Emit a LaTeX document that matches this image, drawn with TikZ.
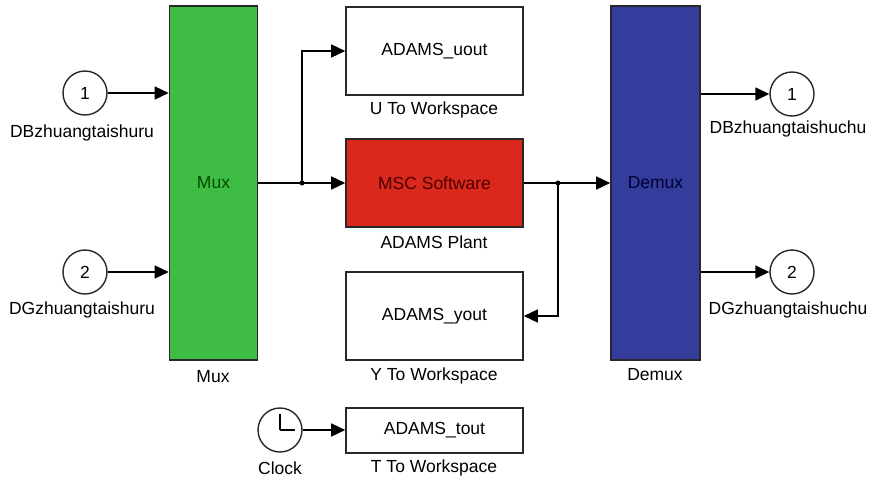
\documentclass[tikz,border=0pt]{standalone}
\usepackage{fontspec}
\setmainfont{Liberation Sans}
\usetikzlibrary{arrows.meta}
\definecolor{muxgreen}{RGB}{62,188,68}
\definecolor{msred}{RGB}{218,40,28}
\definecolor{dmxblue}{RGB}{52,60,156}
\definecolor{edge}{RGB}{40,40,40}
\begin{document}
\begin{tikzpicture}[x=1pt,y=-1pt,
  every node/.style={font=\fontsize{17.5}{20}\selectfont, inner sep=0pt},
  blk/.style={draw=edge, line width=1.6pt, rectangle},
  port/.style={draw=edge, line width=1.4pt, circle, minimum size=44pt},
  wire/.style={line width=1.5pt, draw=black, -{Triangle[length=14pt,width=13pt]}},
  plain/.style={line width=1.5pt, draw=black},
  lbl/.style={anchor=center}]
\useasboundingbox[fill=white] (0,0) rectangle (880,480);
% blocks
\node[blk, fill=muxgreen, minimum width=88pt, minimum height=354pt, text=green!30!black] (mux) at (213.5,183) {Mux};
\node[blk, fill=white, minimum width=177pt, minimum height=88pt] (uws) at (434.5,51) {ADAMS\_uout};
\node[blk, fill=msred, minimum width=177pt, minimum height=88pt, text=red!30!black] (msc) at (434.5,183) {MSC Software};
\node[blk, fill=white, minimum width=177pt, minimum height=88pt] (yws) at (434.5,316) {ADAMS\_yout};
\node[blk, fill=white, minimum width=177pt, minimum height=45pt] (tws) at (434.5,430.5) {ADAMS\_tout};
\node[blk, fill=dmxblue, minimum width=89pt, minimum height=354pt, text=blue!20!black] (dmx) at (655.5,183) {Demux};
% ports
\node[port] (in1) at (85,93) {1};
\node[port] (in2) at (85,272) {2};
\node[port] (out1) at (792,94) {1};
\node[port] (out2) at (792,272) {2};
\node[port] (clk) at (280,430) {};
\draw[plain, line width=1.4pt] (clk.center) -- ++(0,-16);
\draw[plain, line width=1.4pt] (clk.center) -- ++(15,0);
% labels
\node[lbl] (lin1) at (82,133) {DBzhuangtaishuru};
\node[lbl] (lin2) at (82,310) {DGzhuangtaishuru};
\node[lbl] (lmux) at (213,377) {Mux};
\node[lbl] (luws) at (434,110) {U To Workspace};
\node[lbl] (lmsc) at (434,242) {ADAMS Plant};
\node[lbl] (lyws) at (434,376) {Y To Workspace};
\node[lbl] (lclk) at (280,468) {Clock};
\node[lbl] (ltws) at (434,468) {T To Workspace};
\node[lbl] (ldmx) at (655,375) {Demux};
\node[lbl] (lout1) at (788,129) {DBzhuangtaishuchu};
\node[lbl] (lout2) at (788,310) {DGzhuangtaishuchu};
% wires
\coordinate (b1) at (302,183);
\coordinate (b2) at (558,183);
\draw[wire] (in1) -- (in1 -| mux.west);
\draw[wire] (in2) -- (in2 -| mux.west);
\draw[wire] (mux.east) -- (msc.west);
\draw[wire] (b1) |- (uws.west);
\fill (b1) circle (2.5pt);
\draw[wire] (msc.east) -- (dmx.west);
\draw[wire] (b2) |- (yws.east);
\fill (b2) circle (2.5pt);
\draw[wire] (dmx.east |- out1) -- (out1);
\draw[wire] (dmx.east |- out2) -- (out2);
\draw[wire] (clk.east) -- (clk.east -| tws.west);
\end{tikzpicture}
\end{document}
